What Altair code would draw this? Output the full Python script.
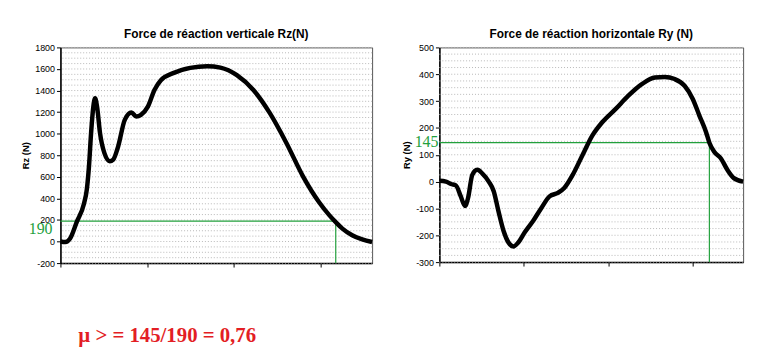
import altair as alt
import pandas as pd

# Vertical reaction force Rz (N)
rz_x = [0, 5.7, 11, 19, 27, 30.5, 33, 35.4, 38, 40, 42.3, 45.7, 50.7, 57, 61, 66.7, 74.3,
        82, 87.6, 93, 101, 108.6, 116, 131, 150, 169.5, 184.8, 203.8, 222.9, 241.9, 261,
        280, 299, 310.5, 318, 325.7, 337, 348.6, 360]
rz_y = [0, -5, 25, 184, 346, 485, 700, 1006, 1251, 1328, 1251, 1006, 822, 745, 760, 883, 1128,
        1196, 1160, 1175, 1251, 1404, 1496, 1564, 1610, 1626, 1613, 1543, 1405, 1190, 914,
        607, 362, 245, 180, 120, 58, 20, -4]

# Horizontal reaction force Ry (N)
ry_x = [0, 7.8, 13.6, 19.5, 25.4, 30.4, 34, 39, 44.9, 50.7, 58.5, 64.4, 70, 76, 81.9, 87.7,
        93.5, 101, 111, 120.9, 130.6, 140.4, 148, 158, 169.7, 181.4, 193, 208.7, 224, 239.9,
        255.5, 267, 278.9, 290.6, 300.3, 308, 316, 320, 325.7, 333.5, 341.3, 349, 360]
ry_y = [3, 0, -9, -14, -55, -91, -61, 25, 44, 31, 0, -36, -110, -183, -227, -242,
        -227, -190, -147, -98, -55, -42, -24, 25, 99, 172, 221, 270, 320, 363,
        388, 390, 382, 357, 308, 247, 185, 145, 111, 87, 44, 13, 0]

rz_ticks = [-200, 0, 200, 400, 600, 800, 1000, 1200, 1400, 1600, 1800]
ry_ticks = [-300, -200, -100, 0, 100, 200, 300, 400, 500]
x_ticks = [0, 100, 200, 300]

rz_mark = {"x": 318, "y": 190, "label": "190"}
ry_mark = {"x": 320, "y": 145, "label": "145"}
formula = "µ > = 145/190 = 0,76"

GREEN = "#22a03c"
RED = "#e31e24"


def panel(xs, ys, ydomain, ticks, gstep, mark, title, ytitle, w, h, label_base, label_dy,
          label_x, extra_text=None):
    df = pd.DataFrame({"x": xs, "y": ys})
    grid_vals = list(range(ydomain[0], ydomain[1] + 1, gstep))
    xs_scale = alt.Scale(domain=[0, 360], nice=False, zero=False)
    ys_scale = alt.Scale(domain=ydomain, nice=False, zero=False)

    yaxis = alt.Axis(values=ticks, tickCount=50, title=ytitle, labelOverlap=False,
                     labelExpr="datum.value + ''")
    xaxis = alt.Axis(values=x_ticks, tickCount=50, labels=False, title=None)

    line = alt.Chart(df).mark_line(color="black", strokeWidth=4.5, interpolate="monotone").encode(
        x=alt.X("x:Q", scale=xs_scale, axis=xaxis),
        y=alt.Y("y:Q", scale=ys_scale, axis=yaxis),
    )
    grid = alt.Chart(pd.DataFrame({"y": grid_vals})).mark_rule(
        color="#b8b8b8", strokeDash=[1, 2], strokeWidth=1
    ).encode(y=alt.Y("y:Q", scale=ys_scale, axis=yaxis))

    mdf = pd.DataFrame([mark])
    mdf["x0"] = 0
    mdf["ymin"] = ydomain[0]
    hrule = alt.Chart(mdf).mark_rule(color=GREEN, strokeWidth=1.2).encode(
        x="x0:Q", x2="x:Q", y="y:Q")
    vrule = alt.Chart(mdf).mark_rule(color=GREEN, strokeWidth=1.2).encode(
        x="x:Q", y="ymin:Q", y2="y:Q")
    lbl = alt.Chart(mdf).mark_text(
        color=GREEN, font="Liberation Serif", fontSize=16, align="right",
        baseline=label_base, dy=label_dy
    ).encode(x=alt.value(label_x), y="y:Q", text="label:N")

    layers = [grid, hrule, vrule, line, lbl]
    if extra_text is not None:
        layers.append(extra_text)
    return alt.layer(*layers).properties(
        width=w, height=h,
        title=alt.TitleParams(title, font="Liberation Sans", fontSize=12,
                              fontWeight="bold", color="black", offset=3),
    )


mu = alt.Chart(pd.DataFrame({"t": [formula]})).mark_text(
    color=RED, font="Liberation Serif", fontSize=21, fontWeight="bold",
    align="left", baseline="alphabetic"
).encode(x=alt.value(18), y=alt.value(298), text="t:N")

left = panel(rz_x, rz_y, [-200, 1800], rz_ticks, 50, rz_mark,
             "Force de réaction verticale Rz(N)", "Rz (N)", 315, 218, "top", 0, -8, mu)
right = panel(ry_x, ry_y, [-300, 500], ry_ticks, 25, ry_mark,
              "Force de réaction horizontale Ry (N)", "Ry (N)", 307, 217, "alphabetic", 4, -1)

chart = alt.hconcat(left, right, spacing=19).properties(
    padding={"left": 12, "top": 17, "right": 2, "bottom": 0},
    background="white",
).configure_view(
    stroke="#555555", strokeWidth=1
).configure_axis(
    grid=False, tickSize=4, domainColor="black", tickColor="black", domainWidth=1.5,
    labelOverlap=False, labelFlush=False, labelFontSize=9, labelFont="Liberation Sans",
    labelPadding=2, labelColor="black", titleFont="Liberation Sans", titleFontSize=9.5,
    titleFontWeight="bold", titleColor="black", titlePadding=4
)

chart.save("out.html", embed_options={"renderer": "svg", "actions": False})
